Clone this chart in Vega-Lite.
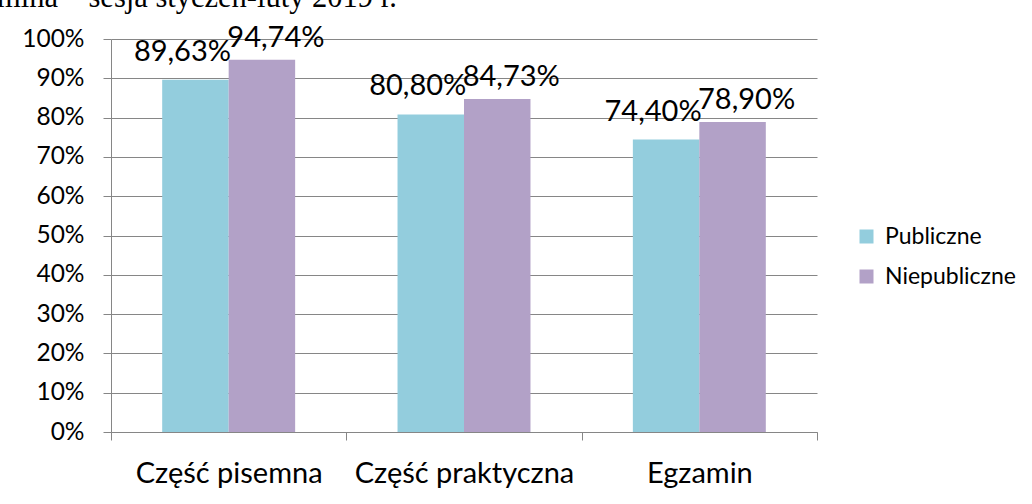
{
  "$schema": "https://vega.github.io/schema/vega-lite/v6.json",
  "width": 706,
  "height": 393,
  "autosize": {"type": "none"},
  "padding": {"left": 111, "top": 39, "right": 215, "bottom": 72},
  "background": "white",
  "title": {
    "text": "mina – sesja styczeń-luty 2019 r.",
    "font": "Liberation Serif",
    "fontSize": 30.5,
    "fontWeight": "normal",
    "color": "black",
    "anchor": "start",
    "frame": "group",
    "baseline": "alphabetic",
    "dx": -114,
    "dy": 29,
    "offset": 15
  },
  "data": {
    "values": [
      {"cat": "Część pisemna", "type": "Publiczne", "value": 0.8963},
      {"cat": "Część pisemna", "type": "Niepubliczne", "value": 0.9474},
      {"cat": "Część praktyczna", "type": "Publiczne", "value": 0.808},
      {"cat": "Część praktyczna", "type": "Niepubliczne", "value": 0.8473},
      {"cat": "Egzamin", "type": "Publiczne", "value": 0.744},
      {"cat": "Egzamin", "type": "Niepubliczne", "value": 0.789}
    ]
  },
  "encoding": {
    "x": {
      "field": "cat",
      "type": "nominal",
      "sort": null,
      "title": null,
      "scale": {"paddingInner": 0, "paddingOuter": 0},
      "axis": {
        "labelAngle": 0,
        "labelFont": "Lato",
        "labelFontSize": 29,
        "labelColor": "black",
        "labelPadding": 19,
        "labelLimit": 0,
        "tickBand": "extent",
        "tickColor": "#868686",
        "tickSize": 8,
        "domainColor": "#868686",
        "grid": false
      }
    },
    "xOffset": {
      "field": "type",
      "type": "nominal",
      "sort": ["Publiczne", "Niepubliczne"],
      "scale": {"paddingInner": 0, "paddingOuter": 0.77}
    },
    "y": {
      "field": "value",
      "type": "quantitative",
      "title": null,
      "scale": {"domain": [0, 1], "nice": false},
      "axis": {
        "values": [0, 0.1, 0.2, 0.3, 0.4, 0.5, 0.6, 0.7, 0.8, 0.9, 1],
        "format": ".0%",
        "labelFont": "Lato",
        "labelFontSize": 24.5,
        "labelColor": "black",
        "labelPadding": 19,
        "tickColor": "#868686",
        "tickSize": 8,
        "domainColor": "#868686",
        "gridColor": "#868686",
        "gridOpacity": 1,
        "grid": true
      }
    },
    "color": {
      "field": "type",
      "type": "nominal",
      "sort": ["Publiczne", "Niepubliczne"],
      "scale": {"domain": ["Publiczne", "Niepubliczne"], "range": ["#93CDDD", "#B2A1C7"]},
      "legend": {
        "title": null,
        "orient": "none",
        "legendX": 744,
        "legendY": 186,
        "symbolType": "square",
        "symbolSize": 196,
        "symbolStrokeWidth": 0,
        "labelFont": "Lato",
        "labelFontSize": 23,
        "labelColor": "black",
        "labelOffset": 7,
        "rowPadding": 16
      }
    }
  },
  "layer": [
    {"mark": {"type": "bar"}},
    {
      "transform": [{"filter": "datum.type === 'Publiczne'"}],
      "mark": {"type": "text", "baseline": "alphabetic", "dx": -13, "dy": -19, "font": "Lato", "fontSize": 29, "color": "black"},
      "encoding": {"text": {"field": "value", "type": "quantitative", "format": ".2%"}, "color": {"value": "black"}}
    },
    {
      "transform": [{"filter": "datum.type === 'Niepubliczne'"}],
      "mark": {"type": "text", "baseline": "alphabetic", "dx": 14, "dy": -13, "font": "Lato", "fontSize": 29, "color": "black"},
      "encoding": {"text": {"field": "value", "type": "quantitative", "format": ".2%"}, "color": {"value": "black"}}
    }
  ],
  "config": {
    "view": {"stroke": null},
    "locale": {"number": {"decimal": ",", "thousands": " ", "grouping": [3], "currency": ["", " zł"]}}
  }
}
